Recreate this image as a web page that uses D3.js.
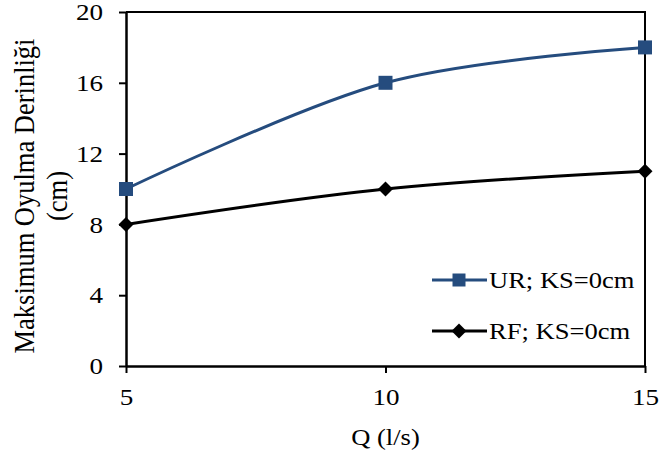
<!DOCTYPE html>
<html>
<head>
<meta charset="utf-8">
<script src="https://cdn.jsdelivr.net/npm/d3@7"></script>
<style>
body { margin: 0; background: #fff; }
svg { display: block; }
text { font-family: "Liberation Serif", "Times New Roman", serif; fill: #000; }
</style>
</head>
<body>
<div id="chart"></div>
<script>
// chart values
var qValues = [5, 10, 15];
var urDepth = [10, 16, 18];
var rfDepth = [8, 10, 11];
var xTicks = [5, 10, 15];
var yTicks = [0, 4, 8, 12, 16, 20];
var seriesNames = ['UR; KS=0cm', 'RF; KS=0cm'];

var width = 660, height = 453;
var plot = { left: 126, right: 645, top: 12, bottom: 366 };
var stretch = 1.13; // text in the source image is a little wide

var svg = d3.select('#chart').append('svg')
    .attr('width', width)
    .attr('height', height);

var x = d3.scaleLinear().domain([5, 15]).range([plot.left, plot.right]);
var y = d3.scaleLinear().domain([0, 20]).range([plot.bottom, plot.top]);

// frame (top and right)
svg.append('path')
    .attr('d', 'M' + plot.left + ',' + plot.top + 'H' + plot.right + 'V' + plot.bottom)
    .style('fill', 'none')
    .style('stroke', '#000')
    .style('stroke-width', 2);

// axes
var xAxis = svg.append('g')
    .attr('transform', 'translate(0,' + plot.bottom + ')')
    .call(d3.axisBottom(x).tickValues(xTicks).tickSize(7).tickPadding(15).tickSizeOuter(0));
var yAxis = svg.append('g')
    .attr('transform', 'translate(' + plot.left + ',0)')
    .call(d3.axisLeft(y).tickValues(yTicks).tickSize(7).tickSizeOuter(0));

[xAxis, yAxis].forEach(function(ax) {
    ax.select('.domain').style('stroke', '#000').style('stroke-width', 2.5);
    ax.selectAll('.tick line').style('stroke', '#000').style('stroke-width', 2);
    ax.selectAll('.tick text')
        .style('font-family', '"Liberation Serif", serif')
        .style('font-size', '24px')
        .style('fill', '#000')
        .attr('transform', 'scale(' + stretch + ',1)');
});
yAxis.selectAll('.tick text').attr('x', -23 / stretch);

// horizontal text with the same stretch
function stretchedText(px, py, size, anchor, str) {
    return svg.append('g')
        .attr('transform', 'translate(' + px + ',' + py + ') scale(' + stretch + ',1)')
        .append('text')
        .attr('text-anchor', anchor)
        .style('font-size', size + 'px')
        .text(str);
}

// axis titles
stretchedText((plot.left + plot.right) / 2, 445, 23.5, 'middle', 'Q (l/s)');

var yTitle = svg.append('g')
    .attr('transform', 'translate(0,196) scale(' + stretch + ',1) rotate(-90)')
    .append('text')
    .attr('text-anchor', 'middle')
    .style('font-size', '26.5px');
yTitle.append('tspan').attr('x', 0).attr('y', 34 / stretch).text('Maksimum Oyulma Derinliği');
yTitle.append('tspan').attr('x', 0).attr('y', 67 / stretch).text('(cm)');

// lines
var line = d3.line()
    .x(function(d) { return x(d[0]); })
    .y(function(d) { return y(d[1]); })
    .curve(d3.curveCatmullRom.alpha(0));

var urData = qValues.map(function(q, i) { return [q, urDepth[i]]; });
var rfData = qValues.map(function(q, i) { return [q, rfDepth[i]]; });

var blue = '#254C7E';

svg.append('path')
    .attr('d', line(urData))
    .style('fill', 'none').style('stroke', blue).style('stroke-width', 3);
svg.append('path')
    .attr('d', line(rfData))
    .style('fill', 'none').style('stroke', '#000').style('stroke-width', 3);

// square and 45 degree diamond markers
var rhombus = {
    draw: function(context, size) {
        var r = Math.sqrt(size / 2);
        context.moveTo(0, -r);
        context.lineTo(r, 0);
        context.lineTo(0, r);
        context.lineTo(-r, 0);
        context.closePath();
    }
};
var square = d3.symbol().type(d3.symbolSquare).size(196);
var diamond = d3.symbol().type(rhombus).size(112);

svg.selectAll('.ur-pt').data(urData).enter().append('path')
    .attr('class', 'ur-pt')
    .attr('transform', function(d) { return 'translate(' + x(d[0]) + ',' + y(d[1]) + ')'; })
    .attr('d', square)
    .style('fill', blue);
svg.selectAll('.rf-pt').data(rfData).enter().append('path')
    .attr('class', 'rf-pt')
    .attr('transform', function(d) { return 'translate(' + x(d[0]) + ',' + y(d[1]) + ')'; })
    .attr('d', diamond)
    .style('fill', '#000');

// legend
var legend = [
    { name: seriesNames[0], color: blue, sym: d3.symbol().type(d3.symbolSquare).size(169), y: 280 },
    { name: seriesNames[1], color: '#000', sym: diamond, y: 331 }
];
legend.forEach(function(l) {
    svg.append('line')
        .attr('x1', 432).attr('x2', 487)
        .attr('y1', l.y).attr('y2', l.y)
        .style('stroke', l.color).style('stroke-width', 3);
    svg.append('path')
        .attr('transform', 'translate(459,' + l.y + ')')
        .attr('d', l.sym)
        .style('fill', l.color);
    stretchedText(489, l.y + 8, 23.5, 'start', l.name);
});
</script>
</body>
</html>
